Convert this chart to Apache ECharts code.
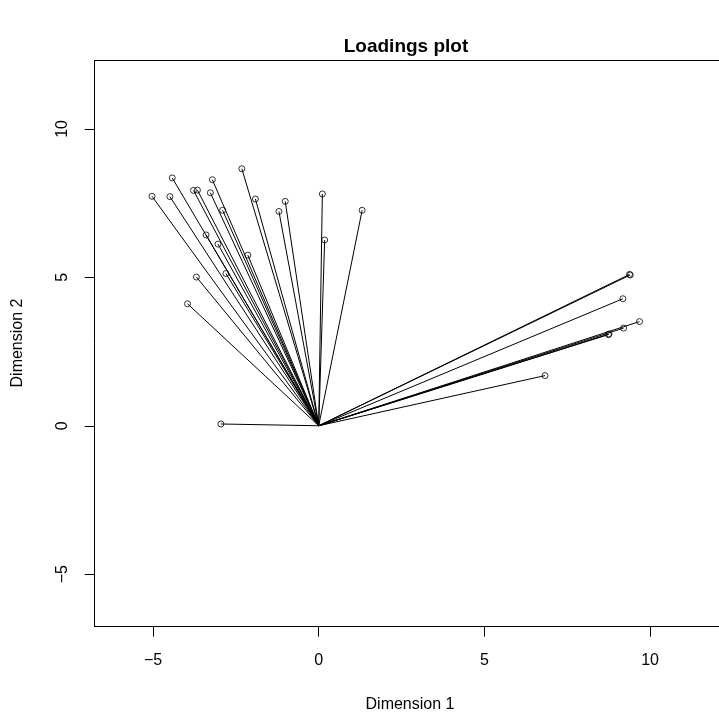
<!DOCTYPE html>
<html>
<head>
<meta charset="utf-8">
<script src="https://cdn.jsdelivr.net/npm/echarts@6/dist/echarts.min.js"></script>
<style>html,body{margin:0;padding:0;background:#fff}#c{width:719px;height:719px}</style>
</head>
<body>
<div id="c"></div>
<script>
// Loadings (Dimension 1, Dimension 2)
const dim1 = [-5.03, -4.42, -4.49, -3.78, -3.66, -3.21, -3.27, -2.32, -2.90, -1.91, -1.20, -1.01, 0.11, 0.18, 1.31,
              -3.40, -3.04, -2.14, -2.80, -3.69, -3.96, -2.95,
              9.38, 9.40, 9.18, 9.68, 9.20, 8.74, 8.76, 6.83];
const dim2 = [7.73, 8.35, 7.72, 7.93, 7.94, 8.29, 7.85, 8.66, 7.26, 7.64, 7.22, 7.56, 7.81, 6.26, 7.26,
              6.43, 6.12, 5.75, 5.13, 5.01, 4.11, 0.06,
              5.10, 5.08, 4.28, 3.51, 3.29, 3.07, 3.09, 1.69];
const xTicks = [-5, 0, 5, 10];
const yTicks = [-5, 0, 5, 10];
const titleText = 'Loadings plot';
const xName = 'Dimension 1';
const yName = 'Dimension 2';

const FONT = 'Liberation Sans, Arial, Helvetica, sans-serif';
const fmt = v => (v < 0 ? '\u2212' + Math.abs(v) : String(v));

const points = dim1.map((x, i) => [x, dim2[i]]);
const segs = points.map(p => ({coords: [[0, 0], p]}));

const chart = echarts.init(document.getElementById('c'), null, {renderer: 'canvas'});
chart.setOption({
  animation: false,
  backgroundColor: '#fff',
  grid: {left: 94.7, top: 60.7, right: 0, bottom: 92.3, show: false},
  xAxis: [{
    type: 'value', min: -6.76, max: 12.08, position: 'bottom',
    splitLine: {show: false},
    axisLine: {show: true, onZero: false, lineStyle: {color: '#000', width: 1}},
    axisTick: {show: true, inside: false, length: 10, lineStyle: {color: '#000'}, customValues: xTicks},
    axisLabel: {customValues: xTicks, formatter: fmt, margin: 26, fontSize: 16, color: '#000', fontFamily: FONT}
  }, {
    type: 'value', min: -6.76, max: 12.08, position: 'top',
    splitLine: {show: false},
    axisLine: {show: true, onZero: false, lineStyle: {color: '#000', width: 1}},
    axisTick: {show: false}, axisLabel: {show: false}
  }],
  yAxis: {
    type: 'value', min: -6.77, max: 12.30,
    splitLine: {show: false},
    axisLine: {show: true, onZero: false, lineStyle: {color: '#000', width: 1}},
    axisTick: {show: true, inside: false, length: 10, lineStyle: {color: '#000'}, customValues: yTicks},
    axisLabel: {customValues: yTicks, formatter: fmt, rotate: 90, margin: 24, fontSize: 16, color: '#000', fontFamily: FONT,
                align: 'center', verticalAlign: 'bottom'}
  },
  series: [
    {
      type: 'lines', coordinateSystem: 'cartesian2d', xAxisIndex: 0, data: segs,
      lineStyle: {color: '#000', width: 1, opacity: 1}, symbol: 'none', silent: true
    },
    {
      type: 'scatter', xAxisIndex: 0, data: points, symbol: 'circle', symbolSize: 6,
      itemStyle: {color: 'transparent', borderColor: '#000', borderWidth: 1}, silent: true
    }
  ],
  graphic: [
    {type: 'text', style: {text: titleText, x: 406, y: 47, textAlign: 'center', textVerticalAlign: 'middle', font: 'bold 19px ' + FONT, fill: '#000'}},
    {type: 'text', style: {text: xName, x: 410, y: 705, textAlign: 'center', textVerticalAlign: 'middle', font: '16px ' + FONT, fill: '#000'}},
    {type: 'text', x: 18, y: 343, rotation: Math.PI / 2, style: {text: yName, x: 0, y: 0, textAlign: 'center', textVerticalAlign: 'middle', font: '16px ' + FONT, fill: '#000'}}
  ]
});
</script>
</body>
</html>
